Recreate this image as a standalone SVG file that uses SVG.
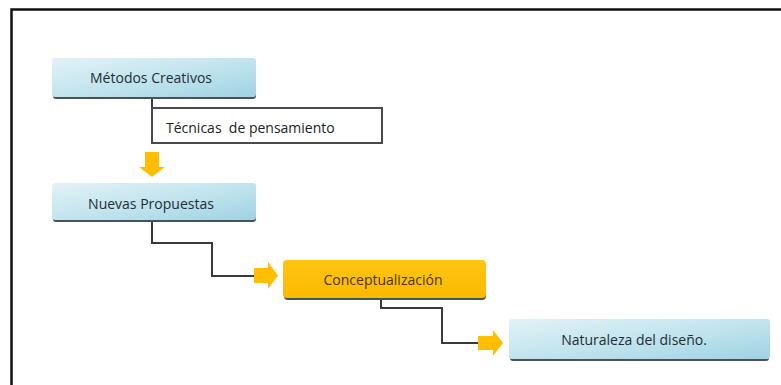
<svg xmlns="http://www.w3.org/2000/svg" width="781" height="385" viewBox="0 0 781 385">
<defs>
<linearGradient id="blue" x1="0" y1="0" x2="1" y2="1">
<stop offset="0" stop-color="#e2f2f6"/>
<stop offset="0.55" stop-color="#bfe3ed"/>
<stop offset="1" stop-color="#9ed2e2"/>
</linearGradient>
<linearGradient id="gold" x1="0" y1="0" x2="0" y2="1">
<stop offset="0" stop-color="#ffc514"/>
<stop offset="1" stop-color="#fbb900"/>
</linearGradient>
<filter id="soft" x="-10%" y="-10%" width="120%" height="130%">
<feGaussianBlur stdDeviation="0.6"/>
</filter>
</defs>
<style>
.shadow{fill:#4a5257;}
.bbox{fill:url(#blue);}
.gbox{fill:url(#gold);}
.t{font-family:"Open Sans","Liberation Sans",sans-serif;font-size:14px;fill:#1f2d35;text-anchor:middle;}
.tg{fill:#4a3300;}
.lbl{font-family:"Open Sans","Liberation Sans",sans-serif;font-size:14px;fill:#222222;white-space:pre;}
.line{fill:none;stroke:#3a3a3a;stroke-width:2;}
.arrow{fill:#ffbe00;}
</style>
<rect x="0" y="0" width="781" height="385" fill="#ffffff"/>
<path d="M11.5,385 V9.5 H781" fill="none" stroke="#111111" stroke-width="2.5"/>

<g id="connectors">
<path class="line" d="M152,99 V143"/>
<path class="line" d="M152,222 V243 H212 V276 H254"/>
<path class="line" d="M381,300 V308 H442 V343 H478"/>
<g filter="url(#soft)">
<polygon class="arrow" points="145,152 159,152 159,167 165,167 152,177 139,167 145,167"/>
<polygon class="arrow" points="254,268 268,268 268,262 278,275.5 268,289 268,283 254,283"/>
<polygon class="arrow" points="478,336 493,336 493,330 503,343 493,356 493,350 478,350"/>
</g>
</g>

<g id="label-tecnicas">
<rect x="152" y="108" width="230" height="35" fill="#ffffff" stroke="#4a4a4a" stroke-width="2"/>
<text class="lbl" x="166" y="133" xml:space="preserve">Técnicas  de pensamiento</text>
</g>

<g id="node-metodos">
<rect class="shadow" x="53" y="61" width="203" height="38" rx="3"/>
<rect class="bbox" x="52" y="58" width="204" height="39" rx="3"/>
<text class="t" x="151" y="83">Métodos Creativos</text>
</g>

<g id="node-nuevas">
<rect class="shadow" x="53" y="186" width="203" height="36" rx="3"/>
<rect class="bbox" x="52" y="183" width="204" height="37" rx="3"/>
<text class="t" x="151" y="209">Nuevas Propuestas</text>
</g>

<g id="node-conceptualizacion">
<rect class="shadow" x="284" y="263" width="202" height="37" rx="4"/>
<rect class="gbox" x="283" y="260" width="203" height="38" rx="4"/>
<text class="t tg" x="383" y="284.5">Conceptualización</text>
</g>

<g id="node-naturaleza">
<rect class="shadow" x="510" y="322" width="259" height="39" rx="3"/>
<rect class="bbox" x="509" y="319" width="261" height="40" rx="3"/>
<text class="t" x="634" y="345">Naturaleza del diseño.</text>
</g>
</svg>
